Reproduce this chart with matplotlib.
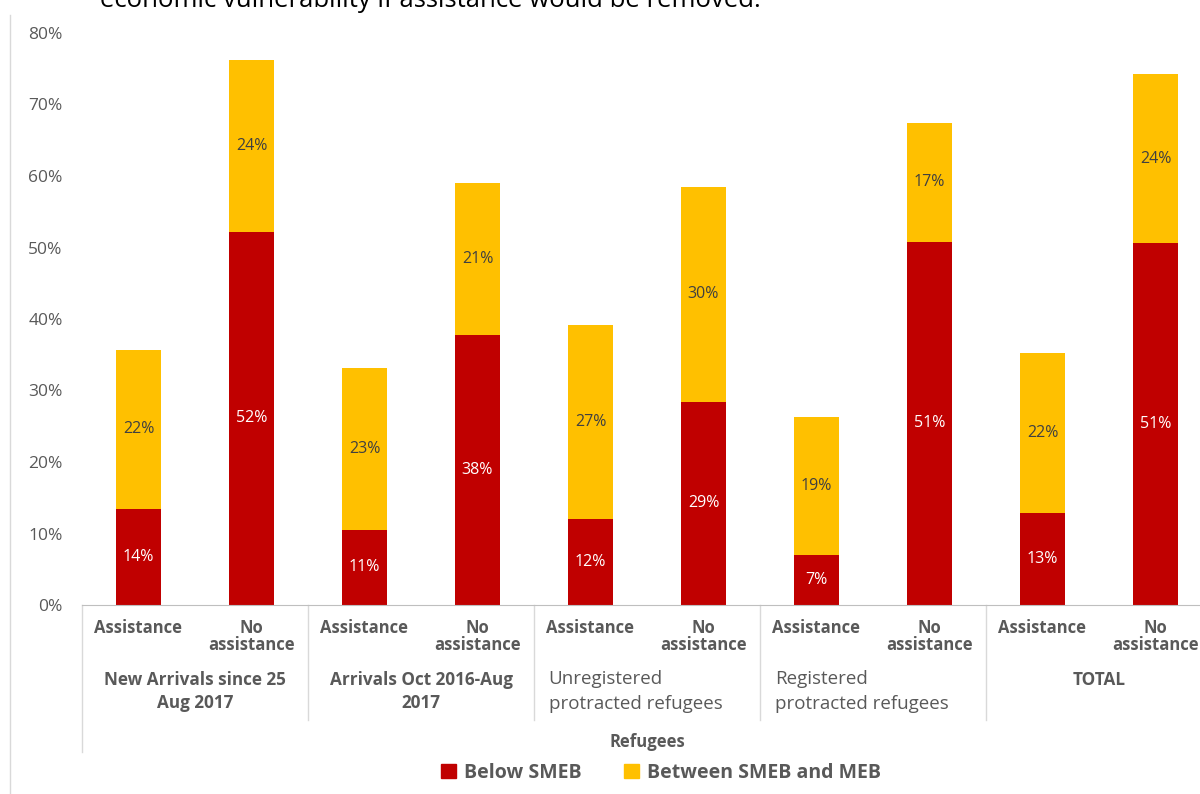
import matplotlib.pyplot as plt
from matplotlib.lines import Line2D
from matplotlib.patches import Patch
from matplotlib.ticker import PercentFormatter
import numpy as np

plt.rcParams['font.family'] = ['Open Sans', 'DejaVu Sans']

# -----------------------------
# Data
# -----------------------------
bar_labels = ["Assistance", "No\nassistance"] * 5
groups = ["New Arrivals since 25\nAug 2017", "Arrivals Oct 2016-Aug\n2017",
          "Unregistered\nprotracted refugees", "Registered\nprotracted refugees",
          "TOTAL"]
below_smeb = [13.4, 52.2, 10.5, 37.8, 12.0, 28.4, 7.0, 50.8, 12.9, 50.6]
between = [22.3, 24.0, 22.7, 21.2, 27.1, 30.1, 19.3, 16.6, 22.4, 23.6]
below_txt = ["14%", "52%", "11%", "38%", "12%", "29%", "7%", "51%", "13%", "51%"]
between_txt = ["22%", "24%", "23%", "21%", "27%", "30%", "19%", "17%", "22%", "24%"]

RED = "#C00000"
YEL = "#FFC000"
GREY = "#595959"

fig = plt.figure(figsize=(12, 7.94), dpi=100)
ax = fig.add_axes([82 / 1200, 1 - 605 / 794, 1130 / 1200, 572 / 794])

x = np.arange(len(below_smeb))
red = np.array(below_smeb) / 100
yel = np.array(between) / 100
ax.bar(x, red, width=0.39, color=RED)
ax.bar(x, yel, width=0.39, bottom=red, color=YEL)

for i in range(len(x)):
    ax.text(x[i], red[i] / 2, below_txt[i], ha="center", va="center",
            color="white", fontsize=11.5)
    ax.text(x[i], red[i] + yel[i] / 2, between_txt[i], ha="center", va="center",
            color="#404040", fontsize=11.5)

ax.set_xlim(-0.5, 9.5)
ax.set_ylim(0, 0.8)
ax.yaxis.set_major_formatter(PercentFormatter(1.0, decimals=0))
ax.set_yticks(np.arange(0, 0.81, 0.1))
ax.tick_params(axis="y", length=0, pad=14, labelsize=12.5, labelcolor=GREY)
ax.set_xticks([])
for s in ["top", "right", "left"]:
    ax.spines[s].set_visible(False)
ax.spines["bottom"].set_color("#BFBFBF")

# ---- multi-level category axis ----
for i, lab in enumerate(bar_labels):
    ax.text(x[i], -0.024, lab, transform=ax.get_xaxis_transform(), ha="center",
            va="top", fontsize=12, fontweight="bold", color=GREY, linespacing=0.95)

group_x = [0.5, 2.5, 4.5, 6.5, 8.5]
for g, lab in enumerate(groups):
    if g in (2, 3):
        ax.text(group_x[g] - 0.87, -0.113, lab, transform=ax.get_xaxis_transform(),
                ha="left", va="top", fontsize=13.5, color=GREY, linespacing=1.55)
    else:
        ax.text(group_x[g], -0.116, lab, transform=ax.get_xaxis_transform(),
                ha="center", va="top", fontsize=12.3, fontweight="bold", color=GREY,
                linespacing=1.3)

for b in [-0.5, 1.5, 3.5, 5.5, 7.5, 9.5]:
    low = -0.257 if b == -0.5 else -0.201
    ax.plot([b, b], [0, low], transform=ax.get_xaxis_transform(), color="#D9D9D9",
            lw=1, clip_on=False)

ax.text(4.5, -0.24, "Refugees", transform=ax.get_xaxis_transform(), ha="center",
        va="center", fontsize=12, fontweight="bold", color=GREY)

# ---- legend ----
handles = [Patch(color=RED, label="Below SMEB"),
           Patch(color=YEL, label="Between SMEB and MEB")]
leg = fig.legend(handles=handles, loc="center", bbox_to_anchor=(661 / 1200, 1 - 773 / 794),
                 ncol=2, frameon=False, handlelength=0.75, handleheight=0.75,
                 handletextpad=0.4, columnspacing=2.2,
                 prop={"size": 14, "weight": "bold"})
for t in leg.get_texts():
    t.set_color(GREY)

# chart frame line and cut-off caption above
fig.add_artist(Line2D([10 / 1200, 10 / 1200], [0, 1 - 15 / 794], color="#D9D9D9", lw=1))
fig.text(100 / 1200, 1 - 7 / 794, "economic vulnerability if assistance would be removed.",
         ha="left", va="baseline", fontsize=18.5, color="black")

fig.savefig("out.png", dpi=100)
